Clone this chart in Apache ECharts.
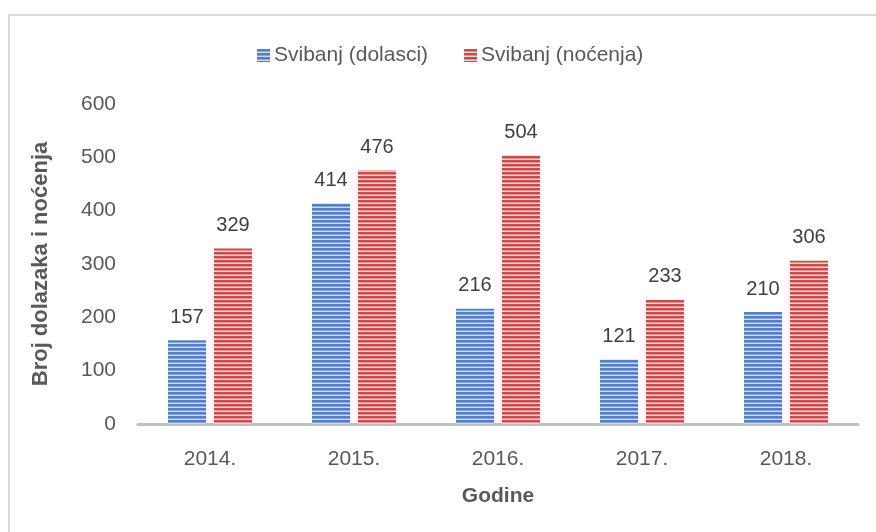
<!DOCTYPE html>
<html><head><meta charset="utf-8">
<script src="https://cdn.jsdelivr.net/npm/echarts@6/dist/echarts.min.js"></script>
<style>html,body{margin:0;padding:0;background:#fff}#c{width:876px;height:532px}</style>
</head><body><div id="c"></div>
<script>
const categories = ['2014.', '2015.', '2016.', '2017.', '2018.'];
const dolasci = [157, 414, 216, 121, 210];
const nocenja = [329, 476, 504, 233, 306];
const yTicks = [0, 100, 200, 300, 400, 500, 600];
const seriesNames = ['Svibanj (dolasci)', 'Svibanj (noćenja)'];

function stripe(rows) {
  const c = document.createElement('canvas');
  c.width = 4; c.height = rows.length;
  const ctx = c.getContext('2d');
  rows.forEach((col, i) => { ctx.fillStyle = col; ctx.fillRect(0, i, 4, 1); });
  return { image: c, repeat: 'repeat' };
}
const bluePat = stripe(['#5585c6', '#4a7cbf', '#86a9da', '#c9daf0']);
const redPat = stripe(['#c9504d', '#c14a47', '#e39391', '#f4cfce']);

const font = '"Liberation Sans", Arial, sans-serif';
const chart = echarts.init(document.getElementById('c'), null, { renderer: 'canvas' });
chart.setOption({
  animation: false,
  backgroundColor: '#fff',
  graphic: [{
    type: 'rect', shape: { x: 9, y: 15, width: 880, height: 540 },
    style: { fill: 'none', stroke: '#d9d9d9', lineWidth: 2 }, silent: true, z: -1
  }],
  legend: {
    top: 40, left: 252, itemWidth: 13, itemHeight: 13, itemGap: 36,
    icon: 'rect',
    textStyle: { fontFamily: font, fontSize: 21, color: '#595959', padding: [0, 0, 0, -1] },
    data: [{ name: seriesNames[0], itemStyle: { color: bluePat } },
           { name: seriesNames[1], itemStyle: { color: redPat } }]
  },
  grid: { left: 138, right: 18, top: 104, bottom: 108, containLabel: false },
  xAxis: {
    type: 'category', data: categories,
    name: 'Godine', nameLocation: 'middle', nameGap: 62,
    nameTextStyle: { fontFamily: font, fontSize: 21, fontWeight: 'bold', color: '#595959' },
    axisLine: { lineStyle: { color: '#bfbfbf', width: 3 } },
    axisTick: { show: false },
    axisLabel: { fontFamily: font, fontSize: 21, color: '#595959', margin: 25 }
  },
  yAxis: {
    type: 'value', min: 0, max: 600, interval: 100,
    name: 'Broj dolazaka i noćenja', nameLocation: 'middle', nameGap: 86, nameRotate: 90,
    nameTextStyle: { fontFamily: font, fontSize: 22, fontWeight: 'bold', color: '#595959' },
    axisLine: { show: false }, axisTick: { show: false }, splitLine: { show: false },
    axisLabel: { fontFamily: font, fontSize: 21, color: '#595959', margin: 22,
      formatter: v => yTicks.includes(v) ? String(v) : '' }
  },
  series: [
    { name: seriesNames[0], type: 'bar', data: dolasci, barWidth: 38, barGap: '21%',
      itemStyle: { color: bluePat },
      label: { show: true, position: 'top', distance: 13, fontFamily: font, fontSize: 20, color: '#404040' } },
    { name: seriesNames[1], type: 'bar', data: nocenja, barWidth: 38, barGap: '21%',
      itemStyle: { color: redPat },
      label: { show: true, position: 'top', distance: 13, fontFamily: font, fontSize: 20, color: '#404040' } }
  ]
});
</script></body></html>
